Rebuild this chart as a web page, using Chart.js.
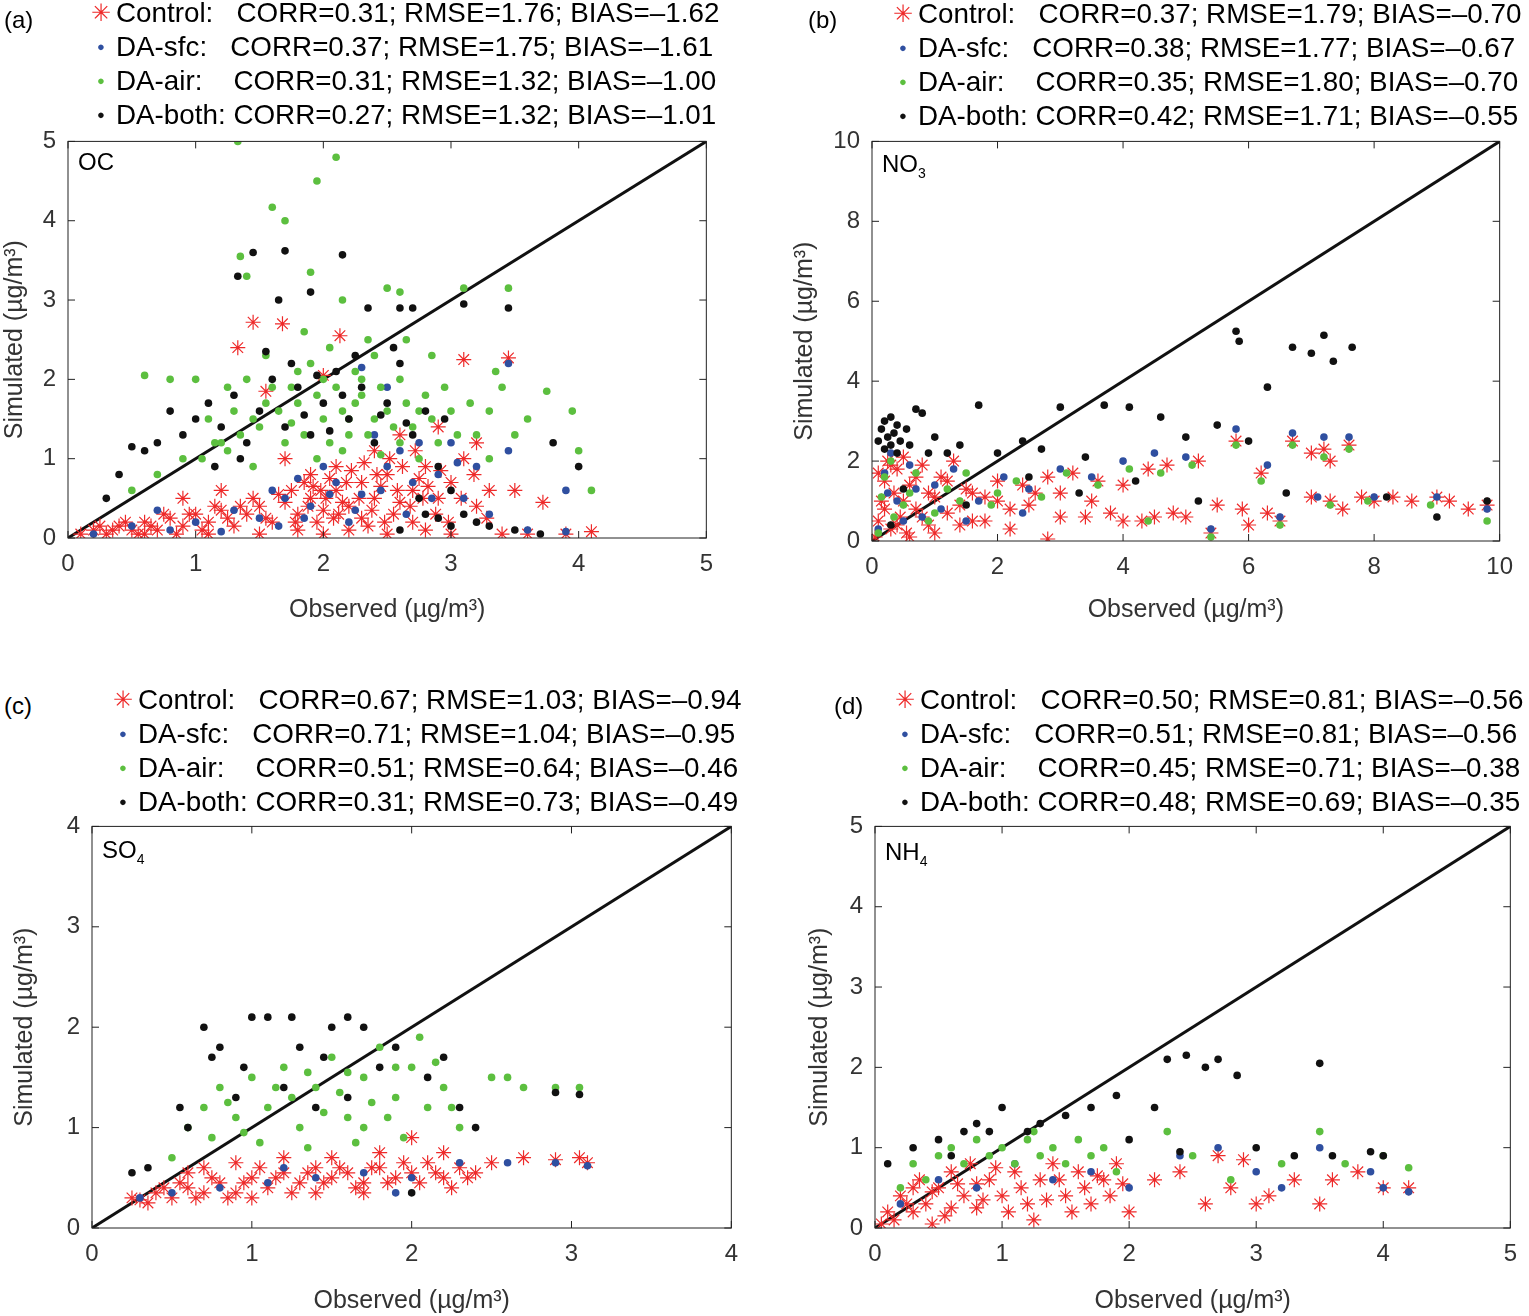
<!DOCTYPE html>
<html><head><meta charset="utf-8">
<script src="https://cdn.jsdelivr.net/npm/chart.js@4"></script>
<style>
body{margin:0;width:1529px;height:1316px;background:#fff;position:relative;font-family:"Liberation Sans",Arial,sans-serif;overflow:hidden}
canvas{position:absolute}
.t{position:absolute;font-size:27.8px;color:#000;white-space:pre;line-height:34px}
.lab{position:absolute;font-size:24px;color:#000}
.sp{position:absolute;font-size:24px;color:#000}
.mk{display:inline-block;width:30px;text-align:center;line-height:34px;vertical-align:top}
</style></head><body>
<script>
// ---------------- DATA ----------------
const legendLabels = ["Control:   ","DA-sfc:   ","DA-air:    ","DA-both: "];
const statsA = ["CORR=0.31; RMSE=1.76; BIAS=\u20131.62","CORR=0.37; RMSE=1.75; BIAS=\u20131.61","CORR=0.31; RMSE=1.32; BIAS=\u20131.00","CORR=0.27; RMSE=1.32; BIAS=\u20131.01"];
const statsB = ["CORR=0.37; RMSE=1.79; BIAS=\u20130.70","CORR=0.38; RMSE=1.77; BIAS=\u20130.67","CORR=0.35; RMSE=1.80; BIAS=\u20130.70","CORR=0.42; RMSE=1.71; BIAS=\u20130.55"];
const statsC = ["CORR=0.67; RMSE=1.03; BIAS=\u20130.94","CORR=0.71; RMSE=1.04; BIAS=\u20130.95","CORR=0.51; RMSE=0.64; BIAS=\u20130.46","CORR=0.31; RMSE=0.73; BIAS=\u20130.49"];
const statsD = ["CORR=0.50; RMSE=0.81; BIAS=\u20130.56","CORR=0.51; RMSE=0.81; BIAS=\u20130.56","CORR=0.45; RMSE=0.71; BIAS=\u20130.38","CORR=0.48; RMSE=0.69; BIAS=\u20130.35"];
const ticksA=[0,1,2,3,4,5], ticksB=[0,2,4,6,8,10], ticksC=[0,1,2,3,4], ticksD=[0,1,2,3,4,5];

const a_ctrl=[[0.1,0.05],[0.2,0.1],[0.3,0.05],[0.4,0.15],[0.5,0.1],[0.6,0.2],[0.7,0.1],[0.8,0.25],[0.9,0.15],[1.0,0.3],[1.1,0.2],[1.2,0.35],[1.3,0.15],[1.4,0.3],[1.5,0.4],[1.6,0.2],[1.7,0.45],[1.8,0.3],[1.9,0.5],[2.0,0.35],[2.1,0.6],[2.2,0.4],[2.3,0.7],[2.4,0.5],[2.5,0.8],[2.6,0.45],[2.7,0.6],[2.8,0.9],[2.9,0.5],[3.0,0.7],[3.1,1.0],[3.2,0.4],[3.3,0.6],[1.5,0.05],[1.8,0.1],[2.0,0.05],[2.2,0.1],[2.5,0.05],[2.8,0.1],[3.0,0.05],[3.4,0.05],[3.6,0.05],[1.9,0.8],[2.1,0.9],[2.4,1.1],[2.6,1.3],[1.7,1.0],[1.33,2.4],[1.45,2.72],[1.68,2.7],[2.13,2.55],[3.1,2.25],[3.45,2.27],[1.55,1.85],[2.0,2.05],[3.5,0.6],[3.72,0.45],[4.1,0.08],[3.9,0.05],[1.2,0.6],[0.9,0.5],[2.3,0.25],[2.7,0.2],[1.1,0.05],[0.6,0.05],[2.9,1.4],[3.2,1.2],[1.75,0.6],[1.95,0.2],[2.15,0.45],[2.35,0.15],[2.55,0.3],[2.75,0.75],[1.85,0.7],[2.05,0.75],[2.45,0.65],[1.65,0.55],[1.55,0.25],[1.45,0.5],[1.35,0.4],[1.25,0.25],[1.15,0.4],[1.05,0.1],[0.95,0.3],[0.85,0.05],[0.75,0.3],[0.65,0.15],[0.55,0.05],[0.45,0.2],[0.35,0.1],[0.25,0.15],[1.78,0.2],[1.88,0.4],[1.98,0.6],[2.08,0.25],[2.18,0.7],[2.28,0.5],[2.38,0.35],[2.48,0.2],[2.58,0.6],[2.68,0.4],[2.78,0.5],[2.88,0.3],[2.98,0.2],[3.08,0.5],[3.18,0.8],[3.28,0.25],[2.22,0.85],[2.52,1.0],[2.32,0.95],[1.92,0.65],[2.02,0.5],[2.12,0.3],[2.42,0.8],[2.62,0.9],[2.72,1.1],[2.82,0.65],[2.92,0.85]];
const a_sfc=[[0.2,0.05],[0.5,0.15],[0.8,0.1],[1.0,0.2],[1.3,0.35],[1.5,0.25],[1.7,0.5],[1.9,0.4],[2.1,0.7],[2.3,0.55],[2.5,0.9],[2.7,0.7],[2.9,0.8],[3.1,0.5],[3.3,0.3],[3.45,2.2],[3.9,0.6],[3.45,1.1],[2.5,1.9],[2.3,2.15],[1.6,0.6],[2.0,0.9],[2.6,1.1],[3.0,1.2],[3.6,0.1],[3.9,0.08],[1.2,0.08],[2.2,0.2],[1.8,0.75],[2.4,1.3],[0.7,0.35],[3.2,0.9],[2.05,0.55],[2.25,0.35],[2.45,0.6],[2.65,0.3],[2.85,0.5],[1.85,0.25],[1.65,0.15],[3.05,0.95],[2.75,1.2]];
const a_air=[[1.33,5.0],[2.1,4.8],[1.95,4.5],[1.6,4.17],[1.7,4.0],[1.35,3.55],[1.4,3.3],[1.9,3.35],[2.15,3.0],[2.5,3.15],[2.6,3.1],[3.1,3.15],[3.45,3.15],[0.6,2.05],[0.8,2.0],[3.75,1.85],[3.95,1.6],[4.0,1.1],[4.1,0.6],[3.5,1.3],[3.3,1.0],[1.2,1.2],[1.3,1.6],[1.4,2.0],[1.5,1.4],[1.6,1.9],[1.7,1.2],[1.8,1.7],[1.9,2.2],[2.0,1.5],[2.1,1.9],[2.2,1.3],[2.3,1.8],[2.4,2.3],[2.5,1.6],[2.6,2.0],[2.7,1.4],[2.8,1.8],[2.9,1.2],[3.0,1.6],[3.2,1.3],[3.3,1.6],[1.1,1.5],[0.9,1.0],[0.7,0.8],[0.5,0.6],[1.0,2.0],[1.25,1.9],[1.55,2.3],[1.85,2.6],[2.05,2.4],[2.35,2.5],[2.65,2.5],[2.85,2.3],[1.75,1.45],[2.15,1.1],[2.45,1.05],[2.75,1.0],[1.45,0.9],[3.4,1.9],[3.6,1.5],[1.95,1.0],[2.25,2.1],[1.65,1.6],[1.75,1.9],[1.85,1.3],[1.95,1.8],[2.05,1.2],[2.15,1.6],[2.25,1.7],[2.35,1.3],[2.45,1.9],[2.55,1.4],[2.65,1.7],[2.75,1.6],[2.85,1.5],[2.95,1.9],[3.05,1.3],[1.55,1.7],[1.45,1.5],[1.35,1.3],[1.25,1.1],[1.15,1.2],[1.05,1.0],[2.3,2.0],[2.0,2.0],[1.8,2.1],[2.6,1.2],[2.4,1.5],[2.2,1.5],[3.15,1.7],[3.35,2.1]];
const a_both=[[1.45,3.6],[1.7,3.62],[2.15,3.57],[1.33,3.3],[1.9,3.1],[1.65,3.0],[2.35,2.9],[2.6,2.9],[2.7,2.9],[3.45,2.9],[3.1,2.95],[0.5,1.15],[0.8,1.6],[1.0,1.5],[3.8,1.2],[4.0,0.9],[3.2,0.2],[2.8,0.3],[2.6,0.1],[3.7,0.05],[0.6,1.1],[0.7,1.2],[0.9,1.3],[1.1,1.7],[1.2,1.4],[1.3,1.8],[1.4,1.2],[1.5,1.6],[1.6,2.0],[1.7,1.4],[1.8,1.9],[1.9,1.3],[2.0,1.7],[2.1,2.1],[2.2,1.5],[2.3,1.9],[2.4,1.2],[2.5,1.7],[2.6,2.2],[2.7,1.3],[2.8,1.6],[2.9,0.9],[3.0,0.6],[3.1,0.3],[3.3,0.15],[3.5,0.1],[1.55,2.35],[1.75,2.2],[2.25,2.3],[2.55,2.4],[0.4,0.8],[0.3,0.5],[2.95,1.5],[1.35,1.0],[1.15,0.9],[1.85,1.55],[2.05,1.35],[2.45,1.55],[2.65,1.45],[2.15,1.8],[1.95,2.05],[2.75,0.5],[2.9,0.25],[3.0,0.15]];

const b_ctrl=[[0.05,0.1],[0.1,0.5],[0.15,1.0],[0.2,1.5],[0.25,2.0],[0.3,0.3],[0.35,1.2],[0.4,1.8],[0.45,0.6],[0.5,2.1],[0.55,0.2],[0.6,1.4],[0.7,0.8],[0.8,1.9],[0.9,0.4],[1.0,1.1],[1.1,1.6],[1.2,0.7],[1.3,2.0],[1.4,0.9],[1.5,1.3],[1.6,0.5],[1.8,1.1],[2.0,1.5],[2.2,0.8],[2.4,1.4],[2.6,1.2],[2.8,1.6],[3.0,1.2],[3.2,1.7],[3.4,0.6],[3.6,1.5],[3.8,0.7],[4.0,1.4],[4.3,0.5],[4.4,1.8],[4.7,1.9],[5.2,2.0],[5.4,0.2],[5.0,0.6],[5.8,2.5],[6.2,1.7],[6.5,0.5],[6.7,2.5],[7.0,2.2],[7.2,2.3],[7.3,2.0],[7.6,2.4],[7.0,1.1],[7.3,1.0],[7.5,0.8],[7.8,1.1],[8.0,1.0],[8.3,1.1],[8.6,1.0],[9.0,1.1],[9.2,1.0],[9.5,0.8],[9.8,0.9],[2.2,0.3],[2.8,0.05],[5.9,0.8],[6.0,0.4],[4.8,0.7],[0.1,1.7],[0.2,0.8],[0.3,1.9],[0.4,0.4],[0.5,1.0],[0.6,0.1],[0.7,1.6],[0.8,0.6],[0.9,1.2],[1.0,0.2],[1.2,1.5],[1.4,0.4],[1.6,1.2],[1.8,0.5],[2.0,1.0],[2.5,0.9],[3.0,0.6],[3.5,1.0],[4.0,0.5],[4.5,0.6],[5.5,0.9],[6.3,0.7]];
const b_sfc=[[0.1,0.3],[0.2,1.7],[0.3,2.2],[0.4,1.0],[0.6,1.9],[0.8,0.6],[1.0,1.4],[1.3,1.8],[1.7,1.0],[2.1,1.6],[2.5,1.3],[3.0,1.8],[3.5,1.6],[4.0,2.0],[4.5,2.2],[5.0,2.1],[5.8,2.8],[6.3,1.9],[6.7,2.7],[7.2,2.6],[7.6,2.6],[7.1,1.1],[8.0,1.1],[9.0,1.1],[9.8,0.8],[5.4,0.3],[6.5,0.6],[0.25,1.2],[0.5,0.5],[0.7,1.3],[1.1,0.8],[1.5,0.5],[2.4,0.7]];
const b_air=[[0.1,0.2],[0.2,1.6],[0.3,2.0],[0.5,0.9],[0.7,1.7],[0.9,0.5],[1.2,1.3],[1.5,1.7],[1.9,0.9],[2.3,1.5],[2.7,1.1],[3.1,1.7],[3.6,1.4],[4.1,1.8],[4.6,1.7],[5.1,1.9],[5.8,2.4],[6.2,1.5],[6.7,2.4],[7.2,2.1],[7.6,2.3],[7.3,0.9],[7.9,1.0],[8.9,0.9],[9.8,0.5],[5.4,0.1],[6.5,0.4],[4.4,0.5],[0.15,1.1],[0.35,0.6],[0.6,1.2],[1.0,0.7],[1.4,1.0],[2.0,1.2]];
const b_both=[[0.1,2.5],[0.15,2.8],[0.2,3.0],[0.25,2.6],[0.3,3.1],[0.35,2.7],[0.4,2.9],[0.45,2.5],[0.55,2.8],[0.7,3.3],[0.8,3.2],[1.0,2.6],[1.2,2.2],[1.4,2.4],[1.7,3.4],[2.0,2.2],[2.4,2.5],[2.7,2.3],[3.0,3.35],[3.4,2.1],[3.7,3.4],[4.1,3.35],[4.6,3.1],[5.0,2.6],[5.5,2.9],[6.0,2.5],[5.8,5.25],[5.85,5.0],[6.3,3.85],[6.7,4.85],[7.0,4.7],[7.2,5.15],[7.35,4.5],[7.65,4.85],[5.2,1.0],[6.6,1.2],[8.2,1.1],[9.0,0.6],[9.8,1.0],[0.3,0.4],[0.5,1.3],[1.5,0.9],[2.5,1.6],[3.3,1.2],[4.2,1.5],[0.2,2.3],[0.3,2.4],[0.4,2.2],[0.6,2.4],[0.9,2.2]];

const c_ctrl=[[0.25,0.3],[0.3,0.28],[0.4,0.35],[0.5,0.3],[0.6,0.4],[0.7,0.35],[0.8,0.45],[0.9,0.35],[1.0,0.5],[1.1,0.4],[1.2,0.55],[1.3,0.45],[1.4,0.6],[1.5,0.5],[1.6,0.55],[1.7,0.45],[1.8,0.6],[1.9,0.5],[2.0,0.55],[2.1,0.65],[2.2,0.5],[2.3,0.6],[2.4,0.55],[0.7,0.6],[0.9,0.65],[1.2,0.7],[1.5,0.7],[1.8,0.75],[2.0,0.9],[2.5,0.65],[2.7,0.7],[2.9,0.68],[3.05,0.7],[3.1,0.65],[0.6,0.55],[1.0,0.3],[1.4,0.35],[1.7,0.35],[0.35,0.25],[2.2,0.75],[0.45,0.4],[0.55,0.45],[0.65,0.3],[0.75,0.5],[0.85,0.3],[0.95,0.45],[1.05,0.6],[1.15,0.5],[1.25,0.35],[1.35,0.55],[1.45,0.45],[1.55,0.6],[1.65,0.4],[1.75,0.6],[1.85,0.45],[1.95,0.65],[2.05,0.45],[2.15,0.55],[2.25,0.4],[2.35,0.5]];
const c_sfc=[[0.3,0.3],[0.5,0.35],[0.8,0.4],[1.1,0.45],[1.4,0.5],[1.7,0.55],[2.0,0.5],[2.3,0.65],[2.6,0.65],[2.9,0.65],[3.1,0.62],[1.9,0.35],[1.2,0.6]];
const c_air=[[0.6,1.0],[0.7,1.2],[0.75,0.9],[0.8,1.4],[0.9,1.1],[1.0,1.5],[1.1,1.2],[1.2,1.6],[1.3,1.0],[1.4,1.4],[1.5,1.7],[1.6,1.1],[1.7,1.5],[1.8,1.8],[1.9,1.3],[2.0,1.6],[2.1,1.2],[2.2,1.4],[2.3,1.0],[1.05,0.85],[1.35,0.8],[1.65,0.85],[1.95,0.9],[1.25,1.3],[1.55,1.35],[1.85,1.1],[2.5,1.5],[2.6,1.5],[2.7,1.4],[2.9,1.4],[3.05,1.4],[0.5,0.7],[2.05,1.9],[1.75,1.25],[0.85,1.25],[0.95,0.95],[1.15,1.4],[1.45,1.15],[1.6,1.55],[1.9,1.6],[2.15,1.65],[2.25,1.2],[1.35,1.55],[1.7,1.0]];
const c_both=[[0.7,2.0],[0.8,1.8],[0.75,1.7],[1.0,2.1],[1.1,2.1],[1.25,2.1],[1.5,2.0],[1.6,2.1],[1.7,2.0],[1.3,1.8],[0.95,1.6],[1.45,1.7],[1.8,1.6],[1.9,1.8],[0.6,1.0],[0.55,1.2],[2.3,1.2],[2.4,1.0],[2.9,1.35],[3.05,1.33],[2.0,0.35],[0.25,0.55],[0.35,0.6],[1.2,1.4],[1.6,1.3],[2.1,1.5],[2.2,1.7],[1.4,1.2],[0.9,1.3]];

const d_ctrl=[[0.05,0.05],[0.1,0.2],[0.15,0.1],[0.2,0.4],[0.3,0.2],[0.35,0.6],[0.4,0.3],[0.5,0.5],[0.55,0.15],[0.6,0.7],[0.7,0.4],[0.75,0.8],[0.8,0.25],[0.9,0.6],[1.0,0.4],[1.1,0.7],[1.2,0.3],[1.3,0.6],[1.4,0.8],[1.5,0.4],[1.6,0.7],[1.7,0.3],[1.8,0.6],[1.9,0.8],[2.0,0.2],[2.2,0.6],[2.4,0.7],[2.6,0.3],[2.8,0.5],[2.9,0.85],[3.1,0.4],[3.3,0.6],[3.5,0.3],[3.6,0.6],[3.8,0.7],[4.0,0.5],[4.2,0.5],[2.7,0.9],[3.0,0.3],[1.25,0.1],[0.45,0.05],[0.25,0.3],[0.45,0.45],[0.65,0.55],[0.85,0.35],[0.95,0.75],[1.05,0.2],[1.15,0.5],[1.35,0.35],[1.45,0.6],[1.55,0.2],[1.65,0.5],[1.75,0.65],[1.85,0.4],[1.95,0.55],[0.3,0.5],[0.6,0.25],[0.8,0.55]];
const d_sfc=[[0.2,0.3],[0.5,0.6],[0.8,0.5],[1.1,0.8],[1.4,0.6],[1.7,0.7],[2.0,0.5],[2.4,0.9],[2.7,1.0],[3.0,0.7],[3.5,1.0],[3.9,0.7],[4.2,0.45],[4.0,0.5],[3.2,0.5]];
const d_air=[[0.2,0.5],[0.3,0.8],[0.4,0.6],[0.5,0.9],[0.6,1.0],[0.7,0.8],[0.8,1.1],[0.9,0.9],[1.0,1.0],[1.1,0.8],[1.2,1.1],[1.3,0.9],[1.4,1.0],[1.5,0.8],[1.6,1.1],[1.7,0.9],[1.8,1.0],[1.9,0.7],[2.3,1.2],[2.5,0.9],[2.8,0.6],[3.2,0.8],[3.5,1.2],[3.7,0.8],[4.0,0.9],[4.2,0.75],[1.25,1.2]];
const d_both=[[0.1,0.8],[0.3,1.0],[0.5,1.1],[0.7,1.2],[0.8,1.3],[1.0,1.5],[0.9,1.2],[1.2,1.2],[1.5,1.4],[1.7,1.5],[1.9,1.65],[2.2,1.5],[2.3,2.1],[2.45,2.15],[2.6,2.0],[2.7,2.1],[2.85,1.9],[3.5,2.05],[2.0,1.1],[2.4,0.95],[3.0,1.0],[3.3,0.9],[3.6,0.9],[3.9,0.95],[4.0,0.9],[1.3,1.3],[0.6,0.9]];

// ---------------- DRAW ----------------
const boxPlugin={id:'box',afterDraw(c){const a=c.chartArea,x=c.ctx;x.save();x.strokeStyle='#222';x.lineWidth=1;x.strokeRect(a.left,a.top,a.right-a.left,a.bottom-a.top);
 const sx=c.scales.x,sy=c.scales.y;
 sx.ticks.forEach(t=>{const p=sx.getPixelForValue(t.value);x.beginPath();x.moveTo(p,a.bottom);x.lineTo(p,a.bottom-7);x.moveTo(p,a.top);x.lineTo(p,a.top+7);x.stroke();});
 sy.ticks.forEach(t=>{const p=sy.getPixelForValue(t.value);x.beginPath();x.moveTo(a.left,p);x.lineTo(a.left+7,p);x.moveTo(a.right,p);x.lineTo(a.right-7,p);x.stroke();});
 x.restore();}};
const toXY=arr=>arr.map(p=>({x:p[0],y:p[1]}));
function panel(box,area,max,ticks,series,titleYOff,rAdj){
 box={l:box.l,t:box.t-10,w:box.w,h:box.h+10};
 const cv=document.createElement('canvas');cv.style.left=box.l+'px';cv.style.top=box.t+'px';cv.width=box.w;cv.height=box.h;cv.style.width=box.w+'px';cv.style.height=box.h+'px';document.body.appendChild(cv);
 const yW=area.l-box.l, xH=box.t+box.h-area.b;
 const pt=(d,c,st,r)=>({data:toXY(d),showLine:false,pointStyle:st,pointRadius:r,backgroundColor:c,borderColor:c,borderWidth:st==='star'?1.2:0,pointHoverRadius:r});
 new Chart(cv,{type:'scatter',data:{datasets:[
  pt(series[3],'#111','circle',3.8),pt(series[2],'#5cbf3f','circle',3.8),pt(series[1],'#2f4fa0','circle',3.8),pt(series[0],'#ee2a2a','star',7.5),
  {data:[{x:0,y:0},{x:max,y:max}],showLine:true,borderColor:'#111',borderWidth:3,pointRadius:0}]},
  options:{responsive:false,animation:false,events:[],plugins:{legend:{display:false},tooltip:{enabled:false}},
   layout:{padding:{left:0,top:5,right:box.l+box.w-area.r-rAdj,bottom:0}},
   scales:{x:{type:'linear',min:0,max:max,afterFit:s=>{s.height=xH},afterBuildTicks:s=>{s.ticks=ticks.map(v=>({value:v}))},grid:{display:false,drawTicks:false},border:{display:false},
     ticks:{color:'#333',font:{size:24,family:'Liberation Sans'},padding:12},title:{display:true,text:'Observed (\u00b5g/m\u00b3)',color:'#333',font:{size:25,family:'Liberation Sans'},padding:{top:titleYOff,bottom:0}}},
    y:{type:'linear',min:0,max:max,afterFit:s=>{s.width=yW},afterBuildTicks:s=>{s.ticks=ticks.map(v=>({value:v}))},grid:{display:false,drawTicks:false},border:{display:false},
     ticks:{color:'#333',font:{size:24,family:'Liberation Sans'},padding:12},title:{display:true,text:'Simulated (\u00b5g/m\u00b3)',color:'#333',font:{size:25,family:'Liberation Sans'},padding:0}}}},
  plugins:[boxPlugin]});
}
function legend(x,y,stats,tag,tx,ty){
 const cols=['#ee2a2a','#2f4fa0','#5cbf3f','#111'],syms=['\u2733','\u25CF','\u25CF','\u25CF'];
 let h='';for(let i=0;i<4;i++){h+='<span class="mk" style="color:'+cols[i]+';font-size:'+(i?'13px':'24px')+'">'+syms[i]+'</span>'+legendLabels[i]+stats[i]+'\n';}
 const d=document.createElement('div');d.className='t';d.style.left=x+'px';d.style.top=y+'px';d.innerHTML=h.trim();document.body.appendChild(d);
 const l=document.createElement('div');l.className='lab';l.style.left=tx+'px';l.style.top=ty+'px';l.textContent=tag;document.body.appendChild(l);
}
function species(x,y,html){const d=document.createElement('div');d.className='sp';d.style.left=x+'px';d.style.top=y+'px';d.innerHTML=html;document.body.appendChild(d);}

panel({l:0,t:125,w:725,h:500},{l:68,t:140,r:707,b:538},5,ticksA,[a_ctrl,a_sfc,a_air,a_both],0,0);
panel({l:790,t:125,w:735,h:500},{l:872,t:141,r:1505,b:541},10,ticksB,[b_ctrl,b_sfc,b_air,b_both],-6,6);
panel({l:10,t:810,w:740,h:506},{l:92,t:826,r:735,b:1228},4,ticksC,[c_ctrl,c_sfc,c_air,c_both],6,0);
panel({l:805,t:810,w:724,h:506},{l:875,t:828,r:1514,b:1228},5,ticksD,[d_ctrl,d_sfc,d_air,d_both],-6,5);

legend(86,-4,statsA,'(a)',4,6);
legend(888,-3,statsB,'(b)',808,6);
legend(108,683,statsC,'(c)',4,692);
legend(890,683,statsD,'(d)',834,692);
species(78,148,'OC');
species(882,150,'NO<sub style="font-size:14px">3</sub>');
species(102,836,'SO<sub style="font-size:14px">4</sub>');
species(885,838,'NH<sub style="font-size:14px">4</sub>');
</script>
</body></html>
